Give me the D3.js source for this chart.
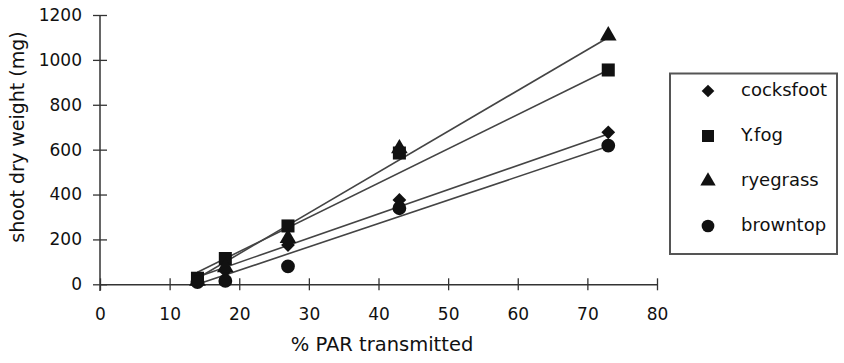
<!DOCTYPE html>
<html><head><meta charset="utf-8">
<script src="https://cdn.jsdelivr.net/npm/d3@7/dist/d3.min.js"></script>
<style>body{margin:0;background:#fff}svg{display:block}text{font-family:"DejaVu Sans",Arial,sans-serif;fill:#111}</style>
</head><body><svg id="c" width="844" height="363"></svg>
<script>
const parTransmitted = [14, 18, 27, 43, 73];
const cocksfoot = [15, 60, 175, 376, 677];
const yfog = [27, 115, 260, 585, 955];
const ryegrass = [15, 75, 205, 605, 1108];
const browntop = [10, 15, 80, 339, 618];
const fitX = [14, 73];
const fitCocksfoot = [33, 670];
const fitYfog = [54, 955];
const fitRyegrass = [27, 1100];
const fitBrowntop = [0, 615];
const seriesNames = ["cocksfoot", "Y.fog", "ryegrass", "browntop"];
const seriesSymbols = ["diamond", "square", "triangle", "circle"];
const xTicks = [0, 10, 20, 30, 40, 50, 60, 70, 80];
const yTicks = [0, 200, 400, 600, 800, 1000, 1200];

const seriesValues = [cocksfoot, yfog, ryegrass, browntop];
const fitValues = [fitCocksfoot, fitYfog, fitRyegrass, fitBrowntop];
const svg = d3.select("#c");
const x = d3.scaleLinear().domain([0, 80]).range([100, 657]);
const y = d3.scaleLinear().domain([0, 1200]).range([284.3, 15]);

const symMap = {diamond: d3.symbolSquare, square: d3.symbolSquare, triangle: d3.symbolTriangle, circle: d3.symbolCircle};
const symSize = {diamond: 95, square: 170, triangle: 120, circle: 150};
const symRot = {diamond: 45, square: 0, triangle: 0, circle: 0};

// axes
const xAxis = d3.axisBottom(x).tickValues(xTicks).tickFormat(d3.format("d")).tickSizeInner(6).tickSizeOuter(0).tickPadding(18);
const gx = svg.append("g").attr("transform", "translate(0,284.3)").call(xAxis);
gx.selectAll(".tick line").attr("y1", -6).attr("y2", 6);
const yAxis = d3.axisLeft(y).tickValues(yTicks).tickFormat(d3.format("d")).tickSizeInner(7).tickSizeOuter(0).tickPadding(11);
const gy = svg.append("g").attr("transform", "translate(100,0)").call(yAxis);
gy.selectAll(".tick line").attr("x1", -7).attr("x2", 7);
[gx, gy].forEach(g => {
  g.attr("font-size", null).attr("font-family", null);
  g.select(".domain").attr("stroke", "#333").attr("stroke-width", 1.5);
  g.selectAll(".tick line").attr("stroke", "#333").attr("stroke-width", 1.3);
  g.selectAll(".tick text").style("font-size", "17px").attr("fill", "#111");
});
gy.select(".domain").attr("d", "M0,291V15");

// fitted lines
fitValues.forEach(f => {
  svg.append("line").attr("x1", x(fitX[0])).attr("y1", y(f[0]))
    .attr("x2", x(fitX[1])).attr("y2", y(f[1]))
    .attr("stroke", "#444").attr("stroke-width", 1.6);
});

// markers
seriesValues.forEach((vals, si) => {
  const s = seriesSymbols[si];
  svg.append("g").selectAll("path").data(vals).join("path")
    .attr("d", d3.symbol(symMap[s], symSize[s]))
    .attr("transform", (d, i) => `translate(${x(parTransmitted[i])},${y(d)}) rotate(${symRot[s]})`)
    .attr("fill", "#111");
});

// axis titles
svg.append("text").attr("x", 382).attr("y", 351).attr("text-anchor", "middle").style("font-size", "19.5px").text("% PAR transmitted");
svg.append("text").attr("transform", "translate(24,137) rotate(-90)").attr("text-anchor", "middle").style("font-size", "19px").text("shoot dry weight (mg)");

// legend
svg.append("rect").attr("x", 670).attr("y", 73.5).attr("width", 167).attr("height", 180.5)
  .attr("fill", "#fff").attr("stroke", "#555").attr("stroke-width", 2);
seriesNames.forEach((nm, i) => {
  const cy = 91 + i * 45;
  const s = seriesSymbols[i];
  svg.append("path").attr("d", d3.symbol(symMap[s], symSize[s]*0.85)).attr("transform", `translate(708,${cy}) rotate(${symRot[s]})`).attr("fill", "#111");
  svg.append("text").attr("x", 741).attr("y", cy + 5).style("font-size", "18px").text(nm);
});
</script></body></html>
